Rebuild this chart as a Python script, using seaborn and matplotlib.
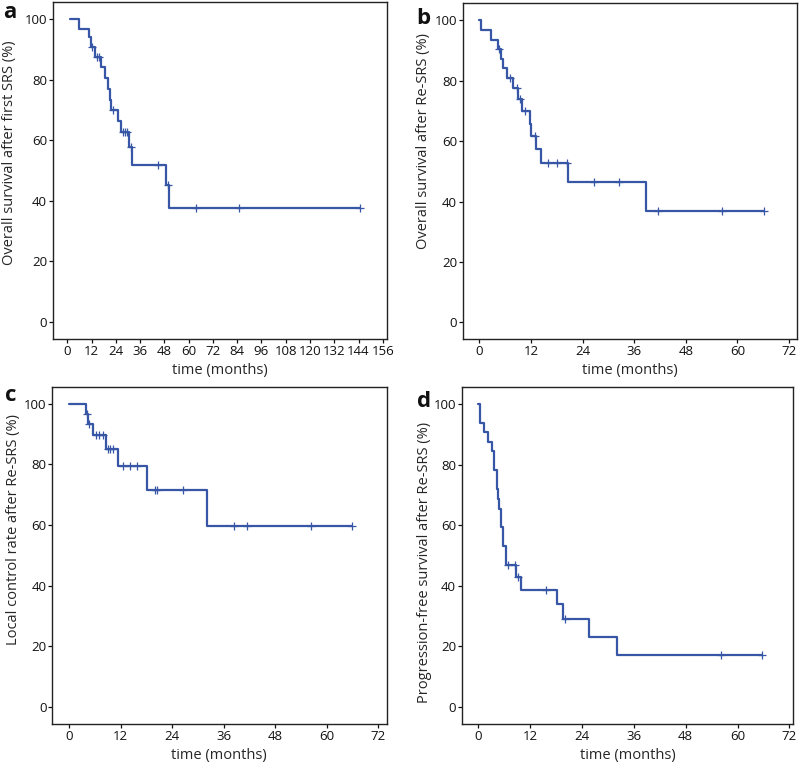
## Kaplan-Meier curves after SRS / Re-SRS, four panels (a-d)
# values, survival in %, time in months

import numpy as np
import pandas as pd
import matplotlib
matplotlib.use('Agg')
import matplotlib.pyplot as plt
import seaborn as sns

## panel a: overall survival after first SRS
a_start = 1.3
a_event_times = [5.8, 10.7, 11.7, 13.7, 16.7, 18.65, 20.3, 21.1, 21.6, 24.9, 26.4, 30.5, 32.2, 48.7, 50.3]
a_event_surv = [96.8, 93.9, 90.6, 87.4, 84.0, 80.4, 76.9, 73.3, 70.0, 66.2, 62.6, 57.6, 51.7, 45.3, 37.7]
a_censor = [12.05, 14.5, 15.7, 22.4, 27.4, 28.5, 29.7, 31.3, 44.7, 50.0, 63.7, 84.9, 144.5]

## panel b: overall survival after Re-SRS
b_start = 0.0
b_event_times = [0.4, 2.64, 4.27, 4.97, 5.59, 6.36, 7.76, 9.08, 9.85, 11.79, 12.1, 13.19, 14.35, 20.7, 38.69]
b_event_surv = [96.7, 93.6, 90.4, 87.2, 84.1, 80.9, 77.5, 73.8, 70.1, 65.7, 61.6, 57.4, 52.9, 46.3, 36.9]
b_censor = [4.58, 7.14, 8.69, 9.47, 10.63, 12.95, 15.9, 17.99, 20.32, 26.67, 32.49, 41.64, 56.52, 66.2]

## panel c: local control after Re-SRS
c_start = 0.0
c_event_times = [3.96, 4.5, 5.66, 8.61, 11.48, 18.08, 32.2]
c_event_surv = [96.7, 93.4, 89.8, 85.2, 79.3, 71.6, 59.7]
c_censor = [4.11, 4.73, 6.21, 7.06, 7.99, 9.0, 9.54, 10.32, 12.65, 14.2, 15.75,
            20.02, 20.56, 26.46, 38.49, 41.36, 56.25, 65.8]

## panel d: progression-free survival after Re-SRS
d_start = 0.0
d_event_times = [0.39, 1.4, 2.32, 3.09, 3.63, 4.25, 4.48, 4.79, 5.25, 5.79, 6.41, 8.73, 9.88, 18.14, 19.68, 25.63, 32.18]
d_event_surv = [93.9, 90.7, 87.5, 84.5, 78.2, 71.9, 68.7, 65.5, 59.5, 53.2, 46.9, 43.0, 38.5, 33.9, 29.0, 23.1, 17.2]
d_censor = [6.95, 8.5, 9.27, 15.67, 20.07, 56.1, 65.6]

a_ylabel = 'Overall survival after first SRS (%)'
b_ylabel = 'Overall survival after Re-SRS (%)'
c_ylabel = 'Local control rate after Re-SRS (%)'
d_ylabel = 'Progression-free survival after Re-SRS (%)'
xlabel = 'time (months)'

a_xticks = list(range(0, 157, 12))
bcd_xticks = list(range(0, 73, 12))
yticks = [0, 20, 40, 60, 80, 100]

sns.set_style('ticks')
plt.rcParams['font.family'] = ['Open Sans', 'DejaVu Sans']

line_col = '#3757A6'


# step table and censor table for one panel
def km_tables(start, times, surv, censor):
    t = [start] + list(times) + [max(censor)]
    s = [100.0] + list(surv) + [surv[-1]]
    steps = pd.DataFrame({'time': t, 'surv': s})
    # survival level at each censor time (value of the step just before)
    cs = []
    for c in censor:
        idx = np.searchsorted(steps['time'].values[:-1], c, side='right') - 1
        cs.append(steps['surv'].values[idx])
    cens = pd.DataFrame({'time': censor, 'surv': cs})
    return steps, cens


def draw_panel(ax, start, times, surv, censor, xticks, xlim, ylabel, label_y):
    steps, cens = km_tables(start, times, surv, censor)
    sns.lineplot(data=steps, x='time', y='surv', ax=ax, color=line_col, linewidth=1.6,
                 drawstyle='steps-post', estimator=None, sort=False)
    sns.scatterplot(data=cens, x='time', y='surv', ax=ax, marker='+', s=26,
                    color=line_col, linewidth=0.9, zorder=3)
    ax.set_xlim(xlim)
    ax.set_ylim(-5.6, 105.6)
    ax.set_xticks(xticks)
    ax.set_yticks(yticks)
    ax.tick_params(direction='out', length=3, width=0.9, pad=1, labelsize=9.5,
                   colors='#111111', top=False, right=False)
    for sp in ax.spines.values():
        sp.set_visible(True)
        sp.set_linewidth(1.0)
        sp.set_color('#222222')
    ax.set_xlabel(xlabel, fontsize=10.5, labelpad=4)
    ax.set_ylabel(ylabel, fontsize=10.5)
    ax.yaxis.set_label_coords(label_y[0], label_y[1])
    ax.yaxis.label.set_va('center')


fig = plt.figure(figsize=(8, 7.63), dpi=100)

ax_a = fig.add_axes([0.0659, 0.5557, 0.4179, 0.4417])
ax_b = fig.add_axes([0.5784, 0.5553, 0.4175, 0.4404])
ax_c = fig.add_axes([0.0650, 0.0511, 0.4184, 0.4421])
ax_d = fig.add_axes([0.5771, 0.0511, 0.4145, 0.4413])

draw_panel(ax_a, a_start, a_event_times, a_event_surv, a_censor, a_xticks, (-7.2, 158.1), a_ylabel, (-0.128, 0.552))
draw_panel(ax_b, b_start, b_event_times, b_event_surv, b_censor, bcd_xticks, (-3.86, 73.8), b_ylabel, (-0.116, 0.59))
draw_panel(ax_c, c_start, c_event_times, c_event_surv, c_censor, bcd_xticks, (-3.96, 73.95), c_ylabel, (-0.115, 0.577))
draw_panel(ax_d, d_start, d_event_times, d_event_surv, d_censor, bcd_xticks, (-3.84, 72.9), d_ylabel, (-0.111, 0.48))

# panel letters
for x, y, t in [(0.004, 0.9764, 'a'), (0.520, 0.9685, 'b'), (0.006, 0.4744, 'c'), (0.521, 0.4666, 'd')]:
    fig.text(x, y, t, fontsize=16, fontweight='bold', va='baseline', ha='left', color='#111111')

plt.savefig('out.png', dpi=100)
plt.close()
